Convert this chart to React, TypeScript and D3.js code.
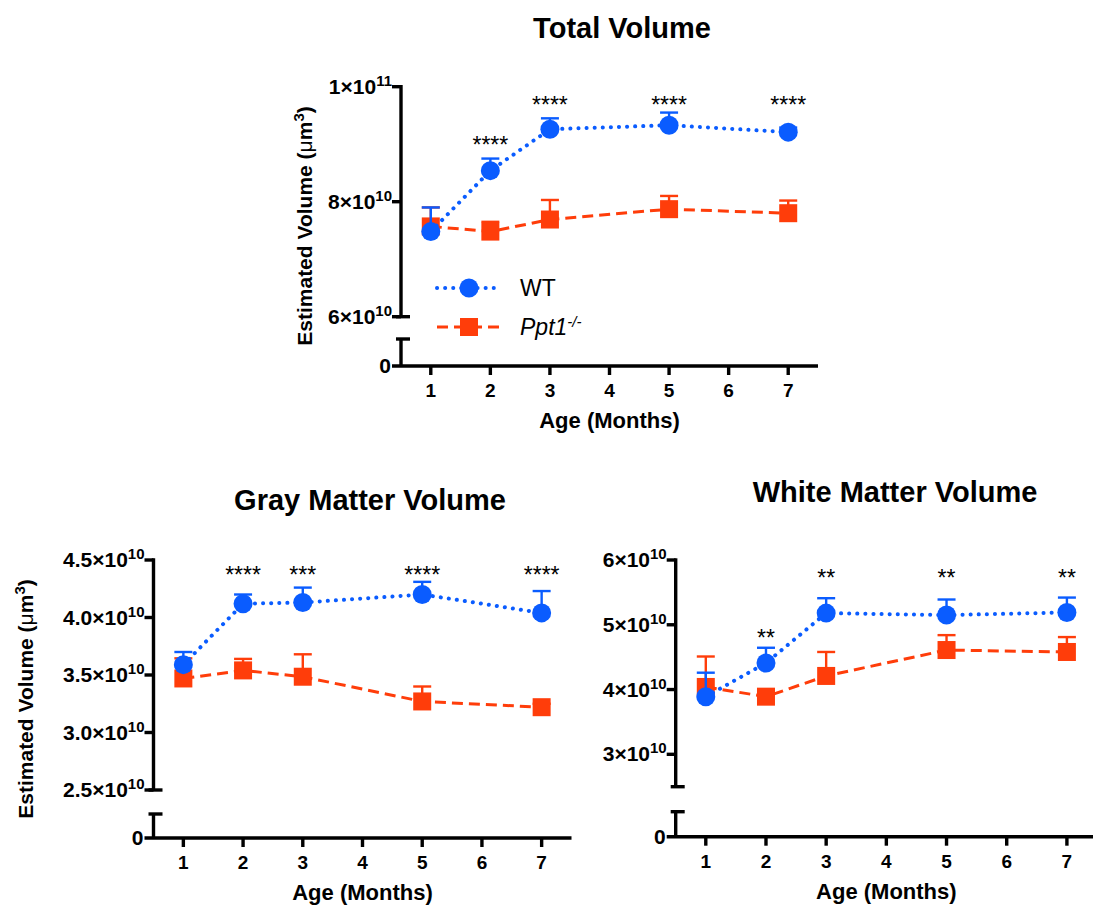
import React from 'react';
import * as d3 from 'd3';

// months sampled
const months = [1, 2, 3, 5, 7];
const xTicks = [1, 2, 3, 4, 5, 6, 7];

// Total volume (um^3)
const totalWT = [7.48e10, 8.54e10, 9.26e10, 9.33e10, 9.21e10];
const totalWTErr = [0.42e10, 0.21e10, 0.19e10, 0.22e10, 0.08e10];
const totalKO = [7.57e10, 7.48e10, 7.69e10, 7.87e10, 7.8e10];
const totalKOErr = [0.33e10, 0.17e10, 0.34e10, 0.23e10, 0.22e10];
const totalStars = ['', '****', '****', '****', '****'];
const totalStarY = [0, 9.07e10, 9.77e10, 9.77e10, 9.77e10];
const totalTicks = [6e10, 8e10, 1e11];

// Gray matter volume
const grayWT = [3.59e10, 4.12e10, 4.13e10, 4.2e10, 4.04e10];
const grayWTErr = [0.11e10, 0.08e10, 0.13e10, 0.11e10, 0.19e10];
const grayKO = [3.47e10, 3.54e10, 3.485e10, 3.27e10, 3.22e10];
const grayKOErr = [0.175e10, 0.1e10, 0.195e10, 0.13e10, 0.03e10];
const grayStars = ['', '****', '***', '****', '****'];
const grayStarY = [0, 4.41e10, 4.41e10, 4.41e10, 4.41e10];
const grayTicks = [2.5e10, 3.0e10, 3.5e10, 4.0e10, 4.5e10];

// White matter volume
const whiteWT = [3.89e10, 4.41e10, 5.18e10, 5.15e10, 5.19e10];
const whiteWTErr = [0.37e10, 0.235e10, 0.23e10, 0.24e10, 0.23e10];
const whiteKO = [4.04e10, 3.89e10, 4.21e10, 4.61e10, 4.58e10];
const whiteKOErr = [0.47e10, 0.1e10, 0.37e10, 0.23e10, 0.23e10];
const whiteStars = ['', '**', '**', '**', '**'];
const whiteStarY = [0, 4.87e10, 5.8e10, 5.8e10, 5.8e10];
const whiteTicks = [3e10, 4e10, 5e10, 6e10];

const BLUE = '#0a5cff';
const RED = '#ff3d0a';
const FONT = '"Liberation Sans", Arial, Helvetica, sans-serif';

function sci(v, digits) {
  const exp = Math.floor(Math.log10(v) + 1e-9);
  const mant = (v / Math.pow(10, exp)).toFixed(digits);
  return { mant, exp };
}

function Series({ x, y, vals, errs, color, kind }) {
  const line = d3.line<number>()
    .x((d, i) => x(months[i]))
    .y(d => y(d));
  return (
    <g>
      <path d={line(vals) || ''} fill="none" stroke={color}
        strokeWidth={kind === 'circle' ? 4 : 3}
        strokeDasharray={kind === 'circle' ? '0.1 8' : '11 6'}
        strokeLinecap={kind === 'circle' ? 'round' : 'butt'} />
      {vals.map((v, i) => {
        const cx = x(months[i]);
        const top = y(v + errs[i]);
        return (
          <g key={'e' + i} stroke={color} strokeWidth={2.4}>
            <line x1={cx} x2={cx} y1={y(v)} y2={top} />
            <line x1={cx - 9} x2={cx + 9} y1={top} y2={top} />
          </g>
        );
      })}
      {vals.map((v, i) => kind === 'circle'
        ? <circle key={'m' + i} cx={x(months[i])} cy={y(v)} r={9.5} fill={color} />
        : <rect key={'m' + i} x={x(months[i]) - 9} y={y(v) - 9} width={18} height={18} fill={color} />)}
    </g>
  );
}

function YLabel({ x, y }) {
  return (
    <text transform={`translate(${x},${y}) rotate(-90)`} textAnchor="middle"
      fontSize={21} fontWeight="bold">
      Estimated Volume (<tspan fontWeight="normal">μ</tspan>m<tspan dy={-8} fontSize={15}>3</tspan><tspan dy={8}>)</tspan>
    </text>
  );
}

function Panel({ L, title, wt, wtErr, ko, koErr, stars, starY, ticks, digits, yLabel, legend }) {
  const x = d3.scaleLinear().domain([0.5, 7.5]).range([L.left, L.right]);
  const y = d3.scaleLinear().domain([L.lo, L.hi]).range([L.yLo, L.yHi]);
  const ax = L.left;
  return (
    <g>
      <text x={L.titleX} y={L.titleY} textAnchor="middle" fontSize={29} fontWeight="bold">{title}</text>

      {/* y axis with break */}
      <g stroke="#000" strokeWidth={3.4}>
        <line x1={ax} x2={ax} y1={y(L.hi) - 1.7} y2={y(L.lo)} />
        <line x1={ax - 5} x2={ax + 9} y1={y(L.lo)} y2={y(L.lo)} />
        <line x1={ax} x2={ax} y1={L.breakTop} y2={L.zeroY} />
        <line x1={ax - 5} x2={ax + 9} y1={L.breakTop} y2={L.breakTop} />
        <line x1={ax - 9} x2={L.right} y1={L.zeroY} y2={L.zeroY} />
        {ticks.map(t => <line key={t} x1={ax - 9} x2={ax} y1={y(t)} y2={y(t)} />)}
        {xTicks.map(t => <line key={t} x1={x(t)} x2={x(t)} y1={L.zeroY} y2={L.zeroY + 9} />)}
      </g>
      {ticks.map(t => {
        const s = sci(t, digits);
        return (
          <text key={t} x={ax - 9} y={y(t) + 7} textAnchor="end" fontSize={21} fontWeight="bold">
            {s.mant}×10<tspan dy={-8} fontSize={15}>{s.exp}</tspan>
          </text>
        );
      })}
      <text x={ax - 10} y={L.zeroY + 7} textAnchor="end" fontSize={21} fontWeight="bold">0</text>
      {xTicks.map(t => (
        <text key={t} x={x(t)} y={L.zeroY + 31} textAnchor="middle" fontSize={19} fontWeight="bold">{t}</text>
      ))}
      <text x={(L.left + L.right) / 2} y={L.zeroY + 62} textAnchor="middle" fontSize={22} fontWeight="bold">Age (Months)</text>
      {yLabel && <YLabel x={yLabel[0]} y={yLabel[1]} />}

      <Series x={x} y={y} vals={ko} errs={koErr} color={RED} kind="square" />
      <Series x={x} y={y} vals={wt} errs={wtErr} color={BLUE} kind="circle" />

      {stars.map((s, i) => s ? (
        <text key={'s' + i} x={x(months[i])} y={y(starY[i]) + 13} textAnchor="middle" fontSize={23}>{s}</text>
      ) : null)}

      {legend && (
        <g>
          <line x1={legend.x0} x2={legend.x1} y1={legend.y1} y2={legend.y1} stroke={BLUE} strokeWidth={4}
            strokeDasharray="0.1 8" strokeLinecap="round" />
          <circle cx={(legend.x0 + legend.x1) / 2} cy={legend.y1} r={9.5} fill={BLUE} />
          <text x={legend.tx} y={legend.y1 + 8} fontSize={23}>WT</text>
          <line x1={legend.x0} x2={legend.x1} y1={legend.y2} y2={legend.y2} stroke={RED} strokeWidth={3}
            strokeDasharray="11 6" />
          <rect x={(legend.x0 + legend.x1) / 2 - 9} y={legend.y2 - 9} width={18} height={18} fill={RED} />
          <text x={legend.tx} y={legend.y2 + 8} fontSize={23}>
            <tspan fontStyle="italic">Ppt1</tspan><tspan dy={-8} fontSize={15} fontStyle="italic">-/-</tspan>
          </text>
        </g>
      )}
    </g>
  );
}

export default function App() {
  return (
    <svg width={1093} height={907} style={{ position: 'absolute', left: 0, top: 0, background: '#fff' }}
      fontFamily={FONT}>
      <Panel
        L={{ left: 401, right: 818, lo: 6e10, hi: 1e11, yLo: 316.7, yHi: 86.7, breakTop: 339, zeroY: 366, titleX: 622, titleY: 38 }}
        title="Total Volume" wt={totalWT} wtErr={totalWTErr} ko={totalKO} koErr={totalKOErr}
        stars={totalStars} starY={totalStarY} ticks={totalTicks} digits={0}
        yLabel={[312, 226]}
        legend={{ x0: 437, x1: 501, tx: 520, y1: 288, y2: 327 }}
      />
      <Panel
        L={{ left: 153.5, right: 571.5, lo: 2.5e10, hi: 4.5e10, yLo: 790, yHi: 560, breakTop: 814, zeroY: 838, titleX: 370, titleY: 510 }}
        title="Gray Matter Volume" wt={grayWT} wtErr={grayWTErr} ko={grayKO} koErr={grayKOErr}
        stars={grayStars} starY={grayStarY} ticks={grayTicks} digits={1}
        yLabel={[33, 699]}
      />
      <Panel
        L={{ left: 675.7, right: 1097, lo: 2.5e10, hi: 6e10, yLo: 786.7, yHi: 560, breakTop: 811.7, zeroY: 836.7, titleX: 895, titleY: 502 }}
        title="White Matter Volume" wt={whiteWT} wtErr={whiteWTErr} ko={whiteKO} koErr={whiteKOErr}
        stars={whiteStars} starY={whiteStarY} ticks={whiteTicks} digits={0}
      />
    </svg>
  );
}
